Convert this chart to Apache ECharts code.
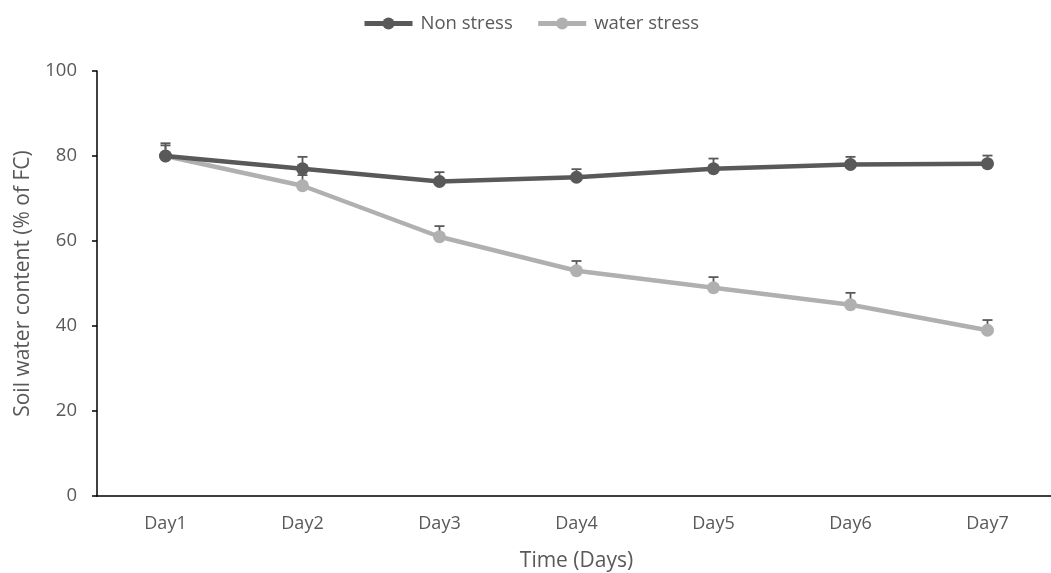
<!DOCTYPE html>
<html>
<head>
<meta charset="utf-8">
<script src="https://cdn.jsdelivr.net/npm/echarts@6/dist/echarts.min.js"></script>
<style>html,body{margin:0;padding:0;background:#fff}#c{width:1051px;height:573px}</style>
</head>
<body>
<div id="c"></div>
<script>
var categories = ['Day1','Day2','Day3','Day4','Day5','Day6','Day7'];
var nonStress = [80, 77, 74, 75, 77, 78, 78.2];
var nonStressErr = [3, 2.8, 2.2, 1.9, 2.4, 1.8, 1.9];
var waterStress = [80, 73, 61, 53, 49, 45, 39];
var waterStressErr = [2.5, 2.5, 2.5, 2.3, 2.5, 2.8, 2.4];
var yTicks = [0, 20, 40, 60, 80, 100];

var FONT = 'Open Sans';
var TXT = '#595959';
var DARK = '#595959';
var LIGHT = '#b0b0b0';

function errData(vals, errs) {
  return vals.map(function (v, i) { return [i, v, v + errs[i]]; });
}
function errRender(params, api) {
  var x = api.value(0);
  var lo = api.coord([x, api.value(1)]);
  var hi = api.coord([x, api.value(2)]);
  var hw = 5;
  var st = { stroke: DARK, lineWidth: 1.8 };
  return {
    type: 'group',
    children: [
      { type: 'line', shape: { x1: lo[0], y1: lo[1], x2: hi[0], y2: hi[1] }, style: st },
      { type: 'line', shape: { x1: hi[0] - hw, y1: hi[1], x2: hi[0] + hw, y2: hi[1] }, style: st }
    ]
  };
}

var chart = echarts.init(document.getElementById('c'), null, { renderer: 'canvas' });
chart.setOption({
  animation: false,
  backgroundColor: '#fff',
  legend: {
    top: 9,
    left: 357,
    itemWidth: 48,
    itemHeight: 15,
    itemGap: 23,
    lineStyle: { width: 5 },
    textStyle: { color: TXT, fontSize: 18.5, fontFamily: FONT, padding: [0, 0, 0, 3] },
    data: ['Non stress', 'water stress']
  },
  grid: { left: 97, width: 959, top: 71, height: 425, outerBoundsMode: 'none', containLabel: false },
  xAxis: {
    type: 'category',
    data: categories,
    boundaryGap: true,
    axisLine: { lineStyle: { color: '#000', width: 1.5 } },
    axisTick: { inside: true, length: 5, lineStyle: { color: '#000', width: 1.5 } },
    axisLabel: { color: TXT, fontSize: 18, fontFamily: FONT, margin: 19 },
    name: 'Time (Days)',
    nameLocation: 'middle',
    nameGap: 55,
    nameTextStyle: { color: TXT, fontSize: 21, fontFamily: FONT }
  },
  yAxis: {
    type: 'value',
    min: yTicks[0],
    max: yTicks[yTicks.length - 1],
    interval: 20,
    splitLine: { show: false },
    axisLine: { show: true, lineStyle: { color: '#000', width: 1.5 } },
    axisTick: { show: true, length: 5, lineStyle: { color: '#000', width: 1.5 } },
    axisLabel: { color: TXT, fontSize: 18.5, fontFamily: FONT, margin: 20 },
    name: 'Soil water content (% of FC)',
    nameLocation: 'middle',
    nameGap: 63,
    nameTextStyle: { color: TXT, fontSize: 21, fontFamily: FONT }
  },
  series: [
    {
      type: 'custom', name: 'errN', renderItem: errRender,
      data: errData(nonStress, nonStressErr), z: 1, silent: true
    },
    {
      type: 'custom', name: 'errW', renderItem: errRender,
      data: errData(waterStress, waterStressErr), z: 1, silent: true
    },
    {
      name: 'water stress', type: 'line', data: waterStress, z: 2,
      symbol: 'circle', symbolSize: 13,
      lineStyle: { color: LIGHT, width: 4.5 },
      itemStyle: { color: LIGHT }
    },
    {
      name: 'Non stress', type: 'line', data: nonStress, z: 3,
      symbol: 'circle', symbolSize: 13,
      lineStyle: { color: DARK, width: 4.5 },
      itemStyle: { color: DARK }
    }
  ]
});
</script>
</body>
</html>
